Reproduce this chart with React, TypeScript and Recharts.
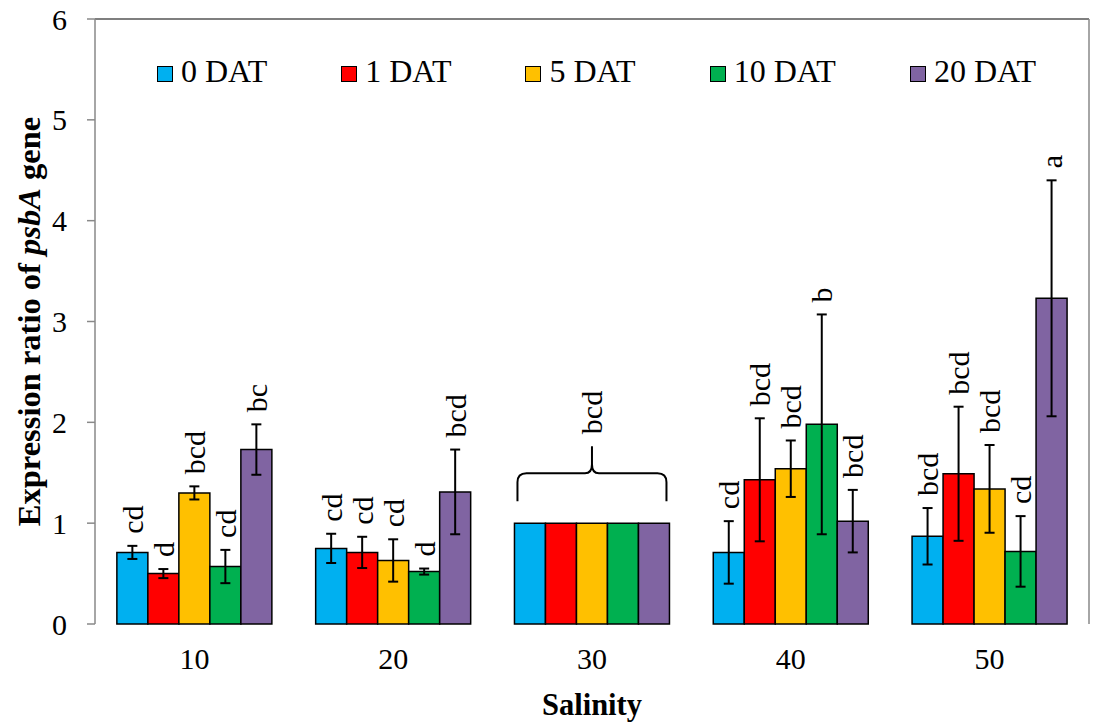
import React from 'react';
import { Bar, BarChart, ErrorBar, Label, LabelList, Legend, XAxis, YAxis } from 'recharts';

const FONT = 'Liberation Serif, Times New Roman, Tinos, DejaVu Serif, serif';

const SALINITY = ['10', '20', '30', '40', '50'];
const SERIES = ['0 DAT', '1 DAT', '5 DAT', '10 DAT', '20 DAT'];
const COLORS = ['#00B0F0', '#FF0000', '#FFC000', '#00B050', '#8064A2'];

// mean expression ratio per salinity
const DAT0 = [0.71, 0.75, 1.0, 0.71, 0.87];
const DAT1 = [0.5, 0.71, 1.0, 1.43, 1.49];
const DAT5 = [1.3, 0.63, 1.0, 1.54, 1.34];
const DAT10 = [0.57, 0.52, 1.0, 1.98, 0.72];
const DAT20 = [1.73, 1.31, 1.0, 1.02, 3.23];

// +/- error
const ERR0 = [0.065, 0.145, 0, 0.31, 0.28];
const ERR1 = [0.045, 0.155, 0, 0.61, 0.665];
const ERR5 = [0.065, 0.21, 0, 0.28, 0.435];
const ERR10 = [0.165, 0.03, 0, 1.09, 0.35];
const ERR20 = [0.25, 0.42, 0, 0.31, 1.17];

// significance letters ('' = pooled control group)
const LET0 = ['cd', 'cd', '', 'cd', 'bcd'];
const LET1 = ['d', 'cd', '', 'bcd', 'bcd'];
const LET5 = ['bcd', 'cd', '', 'bcd', 'bcd'];
const LET10 = ['cd', 'd', '', 'b', 'cd'];
const LET20 = ['bc', 'bcd', '', 'bcd', 'a'];

const CONTROL = '30';
const CONTROL_LETTER = 'bcd';

const Y_TICKS = [0, 1, 2, 3, 4, 5, 6];
const BOUNDARY_TICKS = [0, 1, 2, 3, 4, 5];

const VALUES = [DAT0, DAT1, DAT5, DAT10, DAT20];
const ERRORS = [ERR0, ERR1, ERR5, ERR10, ERR20];
const LETTERS = [LET0, LET1, LET5, LET10, LET20];

const data = SALINITY.map((s, i) => {
  const row: Record<string, any> = { salinity: s };
  SERIES.forEach((_, k) => {
    row[`v${k}`] = VALUES[k][i];
    row[`e${k}`] = ERRORS[k][i];
    row[`l${k}`] = LETTERS[k][i];
  });
  return row;
});

function rotatedText(cx: number, cy: number, text: string) {
  return (
    <text
      x={cx}
      y={cy}
      transform={`rotate(-90 ${cx} ${cy})`}
      textAnchor="start"
      dominantBaseline="central"
      style={{ fontSize: 30, fontFamily: FONT, fill: '#000' }}
    >
      {text}
    </text>
  );
}

const letterLabel = (k: number) => (props: any) => {
  const { x, y, width, height, index, value } = props;
  if (!value) return null;
  const perUnit = height / VALUES[k][index];
  const top = y - ERRORS[k][index] * perUnit - 12;
  return rotatedText(x + width / 2, top, value);
};

// brace over the pooled control group, drawn from the middle bar's geometry
const braceLabel = (props: any) => {
  const { x, y, width, index } = props;
  if (SALINITY[index] !== CONTROL) return null;
  const L = x - 2 * width + 3;
  const R = x + 3 * width - 3;
  const M = x + width / 2;
  const yh = y - 50;
  const ye = y - 22;
  const yp = y - 77;
  const d = [
    `M ${L} ${ye} L ${L} ${yh + 9} Q ${L} ${yh} ${L + 9} ${yh}`,
    `L ${M - 7} ${yh} Q ${M} ${yh} ${M} ${yh - 9} L ${M} ${yp}`,
    `M ${M} ${yh - 9} Q ${M} ${yh} ${M + 7} ${yh}`,
    `L ${R - 9} ${yh} Q ${R} ${yh} ${R} ${yh + 9} L ${R} ${ye}`,
  ].join(' ');
  return (
    <g>
      <path d={d} fill="none" stroke="#000" strokeWidth={2} />
      {rotatedText(M, yp - 12, CONTROL_LETTER)}
    </g>
  );
};

const renderLegend = () => (
  <div style={{ display: 'flex', gap: 74, fontFamily: FONT, fontSize: 32, lineHeight: '36px' }}>
    {SERIES.map((name, i) => (
      <div key={name} style={{ display: 'flex', alignItems: 'center' }}>
        <span
          style={{
            display: 'inline-block',
            width: 14,
            height: 14,
            background: COLORS[i],
            border: '1px solid #000',
            marginRight: 8,
            marginTop: 5,
          }}
        />
        <span>{name}</span>
      </div>
    ))}
  </div>
);

const yTitle = (props: any) => {
  const { viewBox } = props;
  const cx = viewBox.x - 6;
  const cy = viewBox.y + viewBox.height / 2;
  return (
    <text
      x={cx}
      y={cy}
      transform={`rotate(-90 ${cx} ${cy})`}
      textAnchor="middle"
      dominantBaseline="central"
      style={{ fontSize: 32.5, fontWeight: 'bold', fontFamily: FONT, fill: '#000' }}
    >
      Expression ratio of <tspan fontStyle="italic">psbA</tspan> gene
    </text>
  );
};

export default function App() {
  const tickStyle = { fontSize: 30, fill: '#000', fontFamily: FONT };
  return (
    <div style={{ position: 'absolute', left: 0, top: 0, background: '#fff', fontFamily: FONT }}>
      <BarChart
        width={1096}
        height={726}
        data={data}
        margin={{ top: 18, right: 6, bottom: 0, left: 35 }}
        barCategoryGap="11%"
        barGap={0}
        style={{ fontFamily: FONT }}
      >
        <XAxis
          xAxisId="grid"
          type="number"
          domain={[0, 5]}
          ticks={BOUNDARY_TICKS}
          tick={false}
          tickSize={9}
          height={0}
          stroke="#898989"
          strokeWidth={1.5}
        />
        <XAxis
          xAxisId="cat"
          dataKey="salinity"
          axisLine={false}
          tickLine={false}
          tickSize={0}
          tickMargin={24}
          height={102}
          tick={tickStyle}
        >
          <Label
            value="Salinity"
            position="insideBottom"
            offset={11}
            style={{ fontSize: 30.5, fontWeight: 'bold', fill: '#000', fontFamily: FONT }}
          />
        </XAxis>
        <XAxis
          xAxisId="top"
          orientation="top"
          type="number"
          domain={[0, 5]}
          ticks={BOUNDARY_TICKS}
          height={1}
          tick={false}
          tickLine={false}
          stroke="#555"
          strokeWidth={1.5}
        />
        <YAxis
          domain={[0, 6]}
          ticks={Y_TICKS}
          width={60}
          tickSize={8}
          tickMargin={20}
          tick={tickStyle}
          stroke="#898989"
          strokeWidth={1.5}
        >
          <Label content={yTitle} />
        </YAxis>
        <YAxis
          yAxisId="right"
          orientation="right"
          width={1}
          domain={[0, 6]}
          ticks={Y_TICKS}
          tick={false}
          tickLine={false}
          stroke="#898989"
          strokeWidth={1.5}
        />
        <Legend
          content={renderLegend}
          layout="vertical"
          align="center"
          verticalAlign="middle"
          wrapperStyle={{ top: 53, left: 157, width: 'auto' }}
        />
        {SERIES.map((name, k) => (
          <Bar
            key={name}
            xAxisId="cat"
            dataKey={`v${k}`}
            name={name}
            fill={COLORS[k]}
            stroke="#000"
            strokeWidth={1.5}
            isAnimationActive={false}
          >
            <ErrorBar dataKey={`e${k}`} width={5} stroke="#000" strokeWidth={2} direction="y" />
            <LabelList dataKey={`l${k}`} content={letterLabel(k)} />
            {k === 2 && <LabelList dataKey={`v${k}`} content={braceLabel} />}
          </Bar>
        ))}
      </BarChart>
    </div>
  );
}
